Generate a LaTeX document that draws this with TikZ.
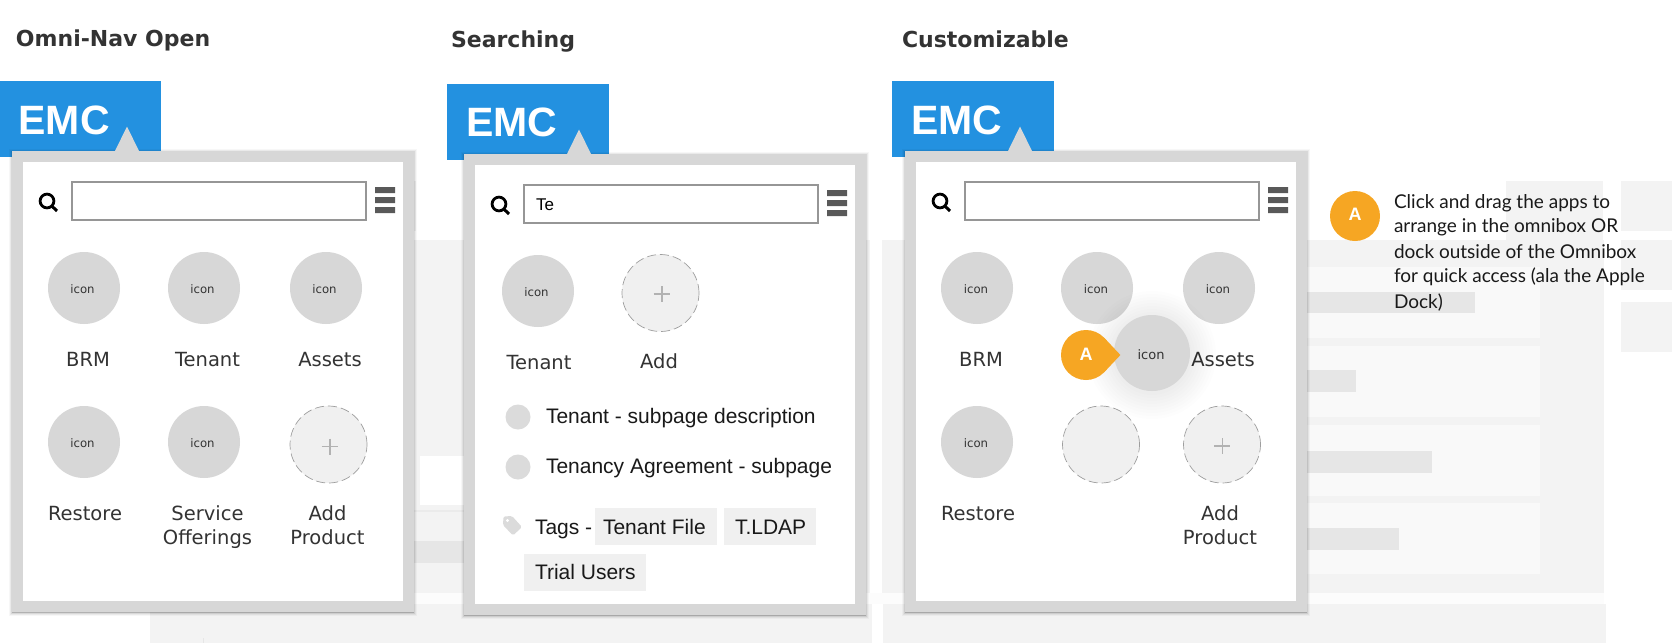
\documentclass[tikz,border=0pt]{standalone}
\usepackage{fontspec}
\setmainfont{DejaVu Sans}
\newfontfamily\helv{Liberation Sans}
\newfontfamily\notefont{Lato}
\definecolor{bgA}{HTML}{F3F3F3}
\definecolor{bgB}{HTML}{F9F9F9}
\definecolor{bgC}{HTML}{E6E6E6}
\definecolor{frameC}{HTML}{D7D7D7}
\definecolor{emcC}{HTML}{2391E0}
\definecolor{markC}{HTML}{F6A623}
\definecolor{inkC}{HTML}{333333}
\definecolor{addC}{HTML}{F0F0F0}
\tikzset{
  txt/.style={inner sep=0pt,outer sep=0pt},
  headline/.style={txt,anchor=base west,text=inkC,font=\bfseries\fontsize{22}{24}\selectfont},
  emctext/.style={txt,anchor=base west,text=white,font=\helv\bfseries\fontsize{41}{44}\selectfont},
  applabel/.style={txt,anchor=base,text=inkC,font=\fontsize{19.5}{24}\selectfont},
  applabeltwo/.style={txt,anchor=north,align=center,text=inkC,font=\fontsize{19.5}{24}\selectfont},
  icontext/.style={txt,anchor=base,text=inkC,font=\fontsize{11.7}{13}\selectfont},
  appdot/.style={circle,fill=frameC,minimum size=72pt,inner sep=0pt},
  adddot/.style={circle,fill=addC,draw=black!38,line width=.7pt,dash pattern=on 9pt off 4pt,minimum size=77pt,inner sep=0pt},
  listtext/.style={txt,anchor=base west,text=black!90,font=\helv\fontsize{21}{24}\selectfont},
  chip/.style={fill=addC,inner sep=0pt,anchor=north west},
  marktext/.style={txt,text=white,font=\helv\bfseries\fontsize{18}{20}\selectfont},
  note/.style={txt,anchor=north west,align=left,text=black!90,font=\notefont\fontsize{19}{25}\selectfont},
}
\newcommand{\plusmark}[2]{\draw[black!30,line width=1.8pt] (#1-8,#2) -- (#1+8,#2) (#1,#2-8) -- (#1,#2+8);}
\newcommand{\omnipanel}[4]{%
  \begin{scope}[shift={(#1,#2)}]
    \foreach \o/\a in {3/.03,2/.05,1/.08,0/.18}{\fill[black,opacity=\a] (-\o,-\o+1) rectangle (402+\o,462+\o);}
    \fill[frameC] (103,0) -- (115,-24.5) -- (127,0) -- cycle;
    \fill[frameC] (0,0) rectangle (402,461);
    \fill[white] (11,11) rectangle (391,450);
    \draw[black!100,line width=2.8pt] (35,50) circle (6.9);
    \draw[black,line width=3pt] (39.8,55) -- (45,60);
    \draw[black!41,line width=2pt] (60,31) rectangle (354,69);
    \fill[black!65] (363,36) rectangle (383,42) (363,46) rectangle (383,52) (363,56) rectangle (383,62);
    \node[txt,anchor=base west,text=black,font=\helv\fontsize{17}{20}\selectfont] (#3q) at (72,56) {#4};
  \end{scope}}
\begin{document}
\begin{tikzpicture}[x=1pt,y=-1pt]
\useasboundingbox (0,0) rectangle (1672,643);
% ---------- faint page behind
\fill[bgA] (414,181) rectangle (416,231);
\fill[bgA] (414,240) rectangle (870,593);
\fill[bgA] (882,240) rectangle (1604,593);
\fill[white] (420,456) rectangle (470,505);
\fill[bgC!80!white] (414,510) rectangle (470,512);
\fill[bgC] (414,541) rectangle (470,563);
\fill[bgB!50!white] (414,593) rectangle (1604,604);
\fill[bgA] (150,604) rectangle (872,643);
\fill[bgC] (202.5,638) rectangle (204,643);
\fill[bgA] (883,604) rectangle (1606,643);
\fill[bgB] (1300,267) rectangle (1540,338);
\fill[bgB] (1300,346) rectangle (1540,417);
\fill[bgB] (1300,425) rectangle (1540,496);
\fill[bgB] (1300,503) rectangle (1540,574);
\fill[bgC] (1300,292) rectangle (1475,313);
\fill[bgC] (1300,370) rectangle (1356,392);
\fill[bgC] (1300,451) rectangle (1432,473);
\fill[bgC] (1300,528) rectangle (1399,550);
\fill[bgA] (1506,181) rectangle (1603,240);
\fill[bgA] (1621,181) rectangle (1672,231);
\fill[bgA] (1621,240) rectangle (1672,290);
\fill[bgA] (1621,302) rectangle (1672,352);
% ---------- headlines
\node[headline] (h1) at (16,46) {Omni-Nav Open};
\node[headline] (h2) at (451,47) {Searching};
\node[headline] (h3) at (902,47) {Customizable};
% ---------- EMC tabs
\fill[emcC] (0,81) rectangle (161,157);
\fill[emcC] (447,84) rectangle (609,160);
\fill[emcC] (892,81) rectangle (1054,157);
\node[emctext] (e1) at (18.5,134) {EMC};
\node[emctext] (e2) at (466,136) {EMC};
\node[emctext] (e3) at (911,134) {EMC};
% ---------- panels
\omnipanel{12}{151}{pa}{}
\omnipanel{464}{154}{pb}{Te}
\omnipanel{905}{151}{pc}{}
% ---------- panel 1
\node[appdot] (a1) at (84,288) {};
\node[appdot] (a2) at (204,288) {};
\node[appdot] (a3) at (326,288) {};
\node[appdot] (a4) at (84,442) {};
\node[appdot] (a5) at (204,442) {};
\node[adddot] (a6) at (328.5,444.5) {};
\plusmark{329.7}{446.5}
\node[icontext] (ai1) at (82.5,293) {icon};
\node[icontext] (ai2) at (202.5,293) {icon};
\node[icontext] (ai3) at (324.5,293) {icon};
\node[icontext] (ai4) at (82.5,447) {icon};
\node[icontext] (ai5) at (202.5,447) {icon};
\node[applabel] (al1) at (88,366) {BRM};
\node[applabel] (al2) at (207.5,366) {Tenant};
\node[applabel] (al3) at (330,366) {Assets};
\node[applabel] (al4) at (85,520) {Restore};
\node[applabeltwo] (al5) at (207.5,505.5) {Service\\Offerings};
\node[applabeltwo] (al6) at (327.5,505.5) {Add\\Product};
% ---------- panel 2
\node[appdot] (b1) at (538,291) {};
\node[adddot] (b2) at (660.5,293) {};
\plusmark{661.7}{294}
\node[icontext] (bi1) at (536.5,296) {icon};
\node[applabel] (bl1) at (539,369) {Tenant};
\node[applabel] (bl2) at (659,368) {Add};
\fill[black!14] (518,417) circle (12.5) (518,467) circle (12.5);
\node[listtext] (bt1) at (546,423) {Tenant - subpage description};
\node[listtext] (bt2) at (546,473) {Tenancy Agreement - subpage};
\fill[black!14,rounded corners=1.5pt] (503.5,516.5) -- (512,516) -- (522,527) -- (513,535.5) -- (503,525) -- cycle;
\fill[white] (507.5,520.5) circle (1.6);
\node[listtext] (bt3) at (535,534) {Tags -};
\node[chip,minimum width=122pt,minimum height=37pt] (c1) at (595,508) {};
\node[chip,minimum width=92pt,minimum height=37pt] (c2) at (724,508) {};
\node[chip,minimum width=122pt,minimum height=37pt] (c3) at (524,554) {};
\node[listtext] (ct1) at (603,534) {Tenant File};
\node[listtext] (ct2) at (735,534) {T.LDAP};
\node[listtext] (ct3) at (535,579) {Trial Users};
% ---------- panel 3
\node[appdot] (d1) at (977,288) {};
\node[appdot] (d2) at (1097,288) {};
\node[appdot] (d3) at (1219,288) {};
\node[appdot] (d4) at (977,442) {};
\node[adddot] (d5) at (1101,444.5) {};
\node[adddot] (d6) at (1222,444.5) {};
\plusmark{1222.4}{446}
\node[icontext] (di1) at (976,293) {icon};
\node[icontext] (di2) at (1096,293) {icon};
\node[icontext] (di3) at (1218,293) {icon};
\node[icontext] (di4) at (976,447) {icon};
\node[applabel] (dl1) at (981,366) {BRM};
\node[applabel] (dl3) at (1223,366) {Assets};
\node[applabel] (dl4) at (978,520) {Restore};
\node[applabeltwo] (dl6) at (1220,505.5) {Add\\Product};
\foreach \r in {40,43,...,64}{\fill[black,opacity=.006] (1152,355) circle (\r);}
\node[circle,fill=frameC,minimum size=76pt,inner sep=0pt] (d7) at (1152,353) {};
\node[icontext,font=\fontsize{13}{14}\selectfont] (di7) at (1151,359) {icon};
\fill[markC] (1086,355) circle (25);
\fill[markC] (1120.4,355) -- (1104.2,372.2) -- (1086,355) -- (1104.2,337.8) -- cycle;
\node[marktext] (m1) at (1086,354) {A};
% ---------- note
\node[circle,fill=markC,minimum size=50pt,inner sep=0pt] (m2) at (1355,216) {};
\node[marktext] (m3) at (1355,214) {A};
\node[note] (nt) at (1394,194) {Click and drag the apps to\\arrange in the omnibox OR\\dock outside of the Omnibox\\for quick access (ala the Apple\\Dock)};
\end{tikzpicture}
\end{document}
